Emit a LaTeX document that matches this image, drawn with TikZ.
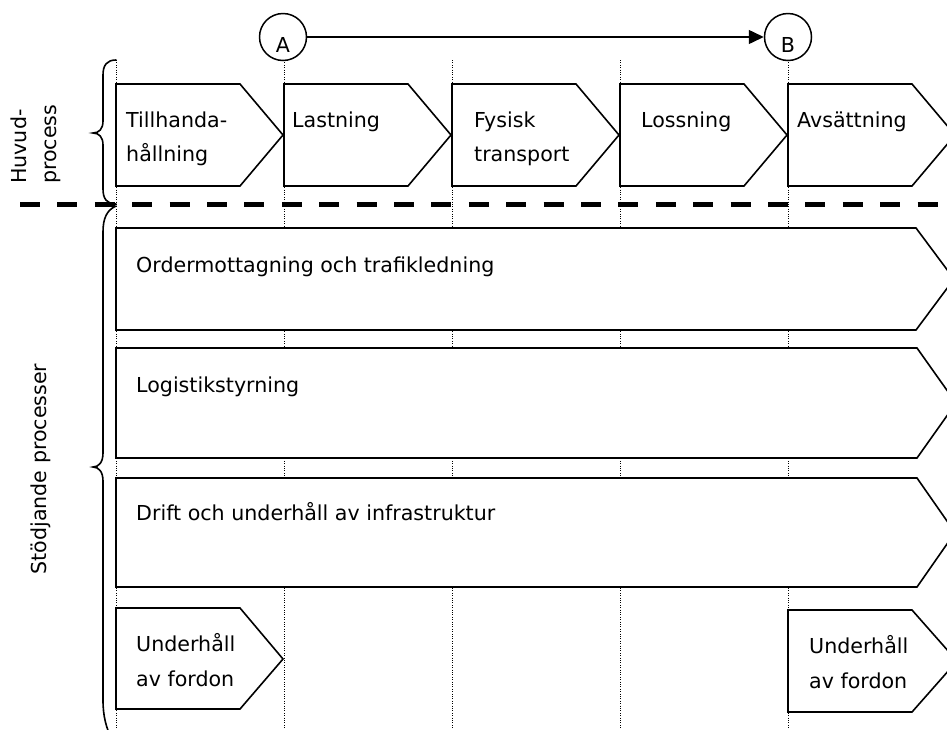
\documentclass[tikz,border=0pt]{standalone}
\usepackage{fontspec}
\setmainfont{DejaVu Sans}
\usetikzlibrary{arrows.meta}
\begin{document}
\begin{tikzpicture}[x=1pt,y=-1pt,
  every node/.style={font=\fontsize{20.6}{24}\selectfont, inner sep=0pt},
  chev/.style={draw, fill=white, line width=1.6pt, line join=miter},
  guide/.style={line width=0.9pt, dash pattern=on 1pt off 1.4pt},
  lbl/.style={anchor=base west},
  bracepath/.style={line width=1.6pt, line cap=round},
  sep/.style={line width=5pt, dash pattern=on 20pt off 17.4pt},
  marker/.style={circle, draw, line width=1.5pt, minimum size=47pt},
  vlbl/.style={rotate=90, anchor=base}]
\useasboundingbox (0,0) rectangle (947,729);
\clip (0,0) rectangle (947,729);
% guides
\foreach \x in {116,284,452,620,788}
  \draw[guide] (\x,60) -- (\x,729);
% main process chevrons
\foreach \x in {116,284,452,620,788}
  \draw[chev] (\x,84) -- (\x+124,84) -- (\x+167,135) -- (\x+124,186) -- (\x,186) -- cycle;
% support processes
\draw[chev] (116,228) -- (916,228) -- (954,279) -- (916,330) -- (116,330) -- cycle;
\draw[chev] (116,348) -- (917,348) -- (956,403) -- (917,458) -- (116,458) -- cycle;
\draw[chev] (116,478) -- (917,478) -- (955,532.5) -- (917,587) -- (116,587) -- cycle;
\draw[chev] (116,608) -- (240,608) -- (283,659) -- (240,709) -- (116,709) -- cycle;
\draw[chev] (788,610) -- (912,610) -- (957,661) -- (912,712) -- (788,712) -- cycle;
% separator
\draw[sep] (20,204) -- (947,204);
% braces
\draw[bracepath] (116,60) .. controls (107,60) and (103,65) .. (103,75) -- (103,121)
  .. controls (103,129) and (99,133) .. (93,133)
  .. controls (99,133) and (103,137) .. (103,145) -- (103,189)
  .. controls (103,199) and (107,204) .. (116,204);
\draw[bracepath] (116,206) .. controls (107,210) and (103,218) .. (103,232) -- (103,453)
  .. controls (103,462) and (99,467) .. (93,467)
  .. controls (99,467) and (103,472) .. (103,481) -- (103,700)
  .. controls (103,716) and (106,728) .. (113,742);
% markers
\node[marker] (A) at (283,37) {};
\node[marker] (B) at (788,37) {};
\node[anchor=base] (Atxt) at ([yshift=-15pt]A.center) {A};
\node[anchor=base] (Btxt) at ([yshift=-15pt]B.center) {B};
\draw[line width=1.5pt, -{Triangle[length=15pt,width=14pt]}] (A) -- (B);
% side labels
\node[vlbl, anchor=base west] (hv1) at (27,184) {Huvud-};
\node[vlbl, anchor=base west] (hv2) at (56,184) {process};
\node[vlbl] (stod) at (46,469) {Stödjande processer};
% chevron labels
\node[lbl] (t1a) at (126,127) {Tillhanda-};
\node[lbl] (t1b) at (126,161) {hållning};
\node[lbl] (t2) at (292,127) {Lastning};
\node[lbl] (t3a) at (474,127) {Fysisk};
\node[lbl] (t3b) at (474,161) {transport};
\node[lbl] (t4) at (641,127) {Lossning};
\node[lbl] (t5) at (797,127) {Avsättning};
\node[lbl] (s1) at (136,272) {Ordermottagning och trafikledning};
\node[lbl] (s2) at (136,392) {Logistikstyrning};
\node[lbl] (s3) at (136,520) {Drift och underhåll av infrastruktur};
\node[lbl] (s4a) at (136,651) {Underhåll};
\node[lbl] (s4b) at (136,686) {av fordon};
\node[lbl] (s5a) at (809,653) {Underhåll};
\node[lbl] (s5b) at (809,688) {av fordon};
\end{tikzpicture}
\end{document}
